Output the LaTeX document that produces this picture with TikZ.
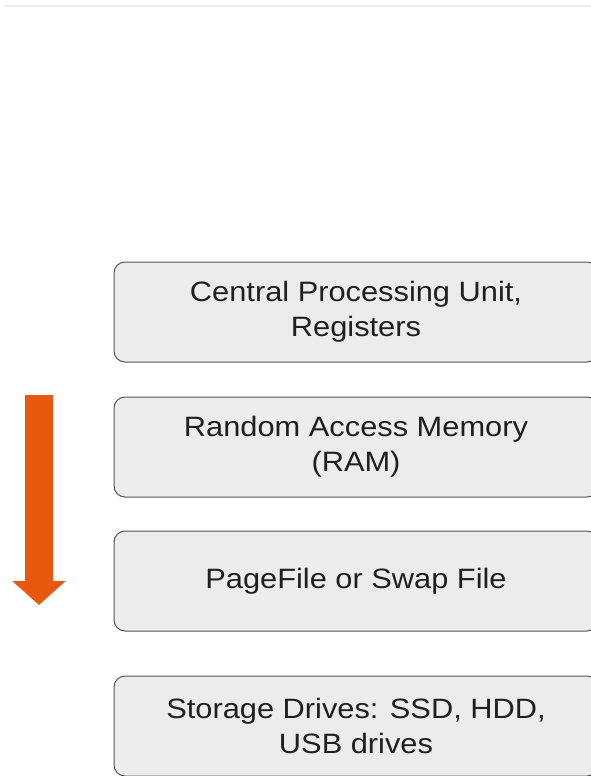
\documentclass[tikz,border=0pt]{standalone}
\usepackage{fontspec}
\setmainfont{Liberation Sans}[FakeStretch=1.1]
\usepackage{xcolor}
\usepackage{tikz}
\usetikzlibrary{arrows.meta, positioning}

\definecolor{levelfill}{RGB}{236,236,236}
\definecolor{levelline}{RGB}{85,85,85}
\definecolor{speedorange}{RGB}{232,88,14}

\begin{document}
\begin{tikzpicture}[
    x=1pt, y=1pt,
    level/.style={draw=levelline, fill=levelfill, rectangle, line width=1pt, minimum height=100pt, minimum width=484pt, rounded corners=11pt, align=center, font=\fontsize{28}{35}\selectfont, text=black!88},
    speed/.style={draw=speedorange, line width=28pt, -{Triangle[width=52pt, length=24pt]}}
]
    \useasboundingbox (0,0) rectangle (591,-776);
    \clip (0,0) rectangle (591,-776);
    \draw[gray!15, line width=2pt] (4,-6) -- (591,-6);

    \node[level] (cpu) at (356,-312) {Central Processing Unit,\\Registers};
    \node[level, below=34pt of cpu] (ram) {Random Access Memory\\(RAM)};
    \node[level, below=33pt of ram] (swap) {PageFile or Swap File};
    \node[level, below=44pt of swap] (disk) {Storage Drives: SSD, HDD,\\USB drives};

    \coordinate (fast) at (39,-395);
    \coordinate (slow) at (39,-605);
    \draw[speed] (fast) -- (slow);
\end{tikzpicture}
\end{document}
